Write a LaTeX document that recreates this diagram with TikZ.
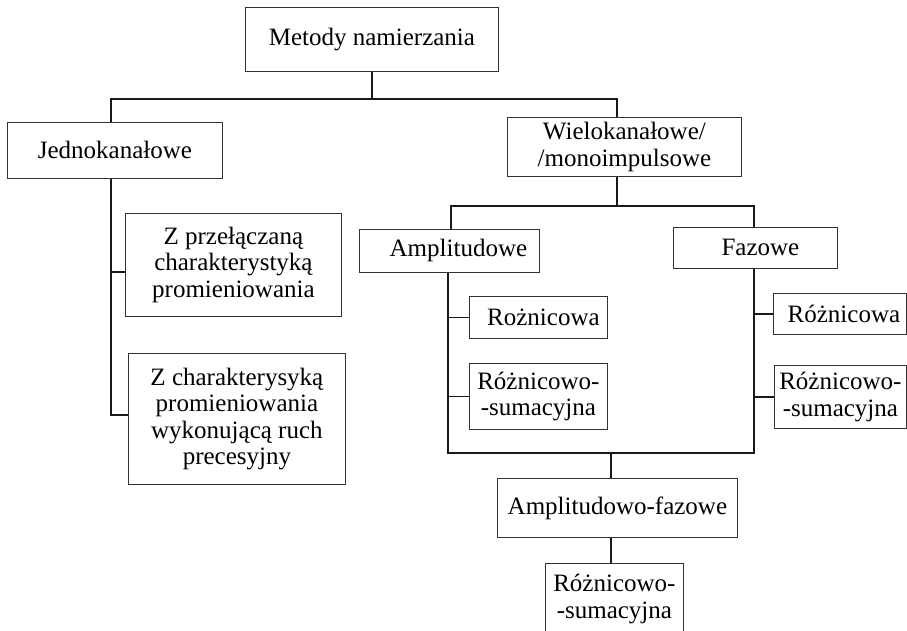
\documentclass[tikz,border=0pt]{standalone}
\usepackage{fontspec}
\setmainfont{Liberation Serif}
\begin{document}
\begin{tikzpicture}[x=1pt,y=-1pt,
  box/.style={draw=black!80, line width=0.8pt, inner sep=0pt, align=center,
    anchor=north west, text=black, font=\fontsize{25}{26.5}\selectfont},
  conn/.style={draw=black!90, line width=1.6pt, line cap=butt, line join=miter}]
\useasboundingbox (0,0) rectangle (907,631);
\clip (0,0) rectangle (907,631);
% boxes
\node[box, minimum width=253pt, minimum height=64pt] (top) at (245,7) {Metody namierzania};
\node[box, minimum width=215pt, minimum height=56pt] (jed) at (7,122) {Jednokanałowe};
\node[box, minimum width=216pt, minimum height=103pt] (z1) at (125,213) {Z przełączaną\\charakterystyką\\promieniowania};
\node[box, minimum width=217pt, minimum height=131pt] (z2) at (128,353) {Z charakterysyką\\promieniowania\\wykonującą ruch\\precesyjny};
\node[box, minimum width=234pt, minimum height=59pt] (wie) at (507,117) {Wielokanałowe/\\/monoimpulsowe};
\node[box, minimum width=180pt, minimum height=43pt] (amp) at (359,229) {\hspace*{18pt}Amplitudowe};
\node[box, minimum width=164pt, minimum height=41pt] (faz) at (673,227) {\hspace*{10pt}Fazowe};
\node[box, minimum width=138pt, minimum height=42pt] (roz) at (469,296) {\hspace*{10pt}Rożnicowa};
\node[box, minimum width=138pt, minimum height=66pt] (rs) at (469,363) {Różnicowo-\\-sumacyjna};
\node[box, minimum width=133pt, minimum height=41pt] (rozf) at (773,293) {\hspace*{8pt}Różnicowa};
\node[box, minimum width=132pt, minimum height=63pt] (rsf) at (774,365) {Różnicowo-\\-sumacyjna};
\node[box, minimum width=240pt, minimum height=59pt] (af) at (497,478) {Amplitudowo-fazowe};
\node[box, minimum width=138pt, minimum height=90pt, text depth=0pt] (bot) at (545,563) {};
\node[anchor=north, inner sep=0pt, align=center, text=black, font=\fontsize{25}{26.5}\selectfont] (bott) at (bot.north) [yshift=-11pt] {Różnicowo-\\-sumacyjna};
% bus coordinates
\coordinate (L) at (111,99);
\coordinate (R) at (617,99);
\coordinate (A) at (451,206);
\coordinate (F) at (754,206);
\coordinate (AB) at (448,453);
\coordinate (FB) at (754,453);
\coordinate (M) at (611,453);
\coordinate (c1) at (111,272);
\coordinate (c2) at (111,415);
% connectors
\draw[conn] (top.south) -- (top.south |- L);
\draw[conn] (L |- jed.north) -- (L) -- (R) -- (R |- wie.north);
\draw[conn] (L |- jed.south) -- (c2) -- (c2 -| z2.west);
\draw[conn] (c1) -- (c1 -| z1.west);
\draw[conn] (R |- wie.south) -- (R |- A);
\draw[conn] (A |- amp.north) -- (A) -- (F) -- (F |- faz.north);
\draw[conn] (AB |- amp.south) -- (AB) -- (FB) -- (FB |- faz.south);
\draw[conn] (AB |- roz.west) -- (roz.west);
\draw[conn] (AB |- rs.west) -- (rs.west);
\draw[conn] (FB |- rozf.west) -- (rozf.west);
\draw[conn] (FB |- rsf.west) -- (rsf.west);
\draw[conn] (M) -- (M |- af.north);
\draw[conn] (M |- af.south) -- (M |- bot.north);
\end{tikzpicture}
\end{document}
